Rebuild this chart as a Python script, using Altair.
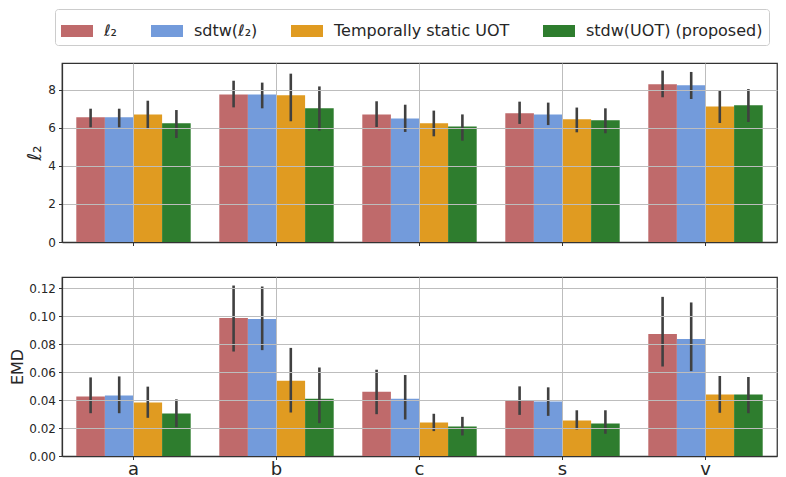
import altair as alt
import pandas as pd

categories = ["a", "b", "c", "s", "v"]
methods = ["ℓ₂", "sdtw(ℓ₂)", "Temporally static UOT", "stdw(UOT) (proposed)"]
colors = ["#bf6a6b", "#739bdb", "#e09b21", "#2e7d2e"]

# l2 panel: mean, low, high per category (rows) and method (columns)
l2_mean = [[6.55, 6.55, 6.70, 6.23],
           [7.75, 7.75, 7.70, 7.02],
           [6.70, 6.49, 6.23, 6.07],
           [6.76, 6.70, 6.44, 6.39],
           [8.28, 8.23, 7.12, 7.18]]
l2_low = [[6.02, 6.02, 5.93, 5.46],
          [7.07, 7.02, 6.34, 5.85],
          [6.04, 5.78, 5.55, 5.32],
          [6.20, 6.14, 5.76, 5.71],
          [7.60, 7.51, 6.25, 6.30]]
l2_high = [[7.00, 7.00, 7.42, 6.93],
           [8.47, 8.37, 8.84, 8.17],
           [7.39, 7.21, 6.90, 6.70],
           [7.37, 7.32, 7.06, 7.02],
           [9.00, 8.93, 7.98, 8.03]]

emd_mean = [[0.0425, 0.0432, 0.0382, 0.0304],
            [0.0986, 0.0979, 0.0538, 0.0410],
            [0.0460, 0.0410, 0.0240, 0.0211],
            [0.0396, 0.0389, 0.0254, 0.0233],
            [0.0873, 0.0837, 0.0439, 0.0439]]
emd_low = [[0.0306, 0.0306, 0.0273, 0.0206],
           [0.0747, 0.0757, 0.0311, 0.0235],
           [0.0299, 0.0261, 0.0178, 0.0147],
           [0.0294, 0.0287, 0.0190, 0.0159],
           [0.0640, 0.0607, 0.0309, 0.0306]]
emd_high = [[0.0562, 0.0569, 0.0496, 0.0405],
            [0.1219, 0.1212, 0.0773, 0.0633],
            [0.0617, 0.0579, 0.0302, 0.0280],
            [0.0498, 0.0491, 0.0327, 0.0327],
            [0.1138, 0.1098, 0.0572, 0.0565]]

emd_ticks = [0, 0.02, 0.04, 0.06, 0.08, 0.10, 0.12]
l2_ticks = [0, 2, 4, 6, 8]

rows = []
for i, c in enumerate(categories):
    for j, m in enumerate(methods):
        rows.append(dict(cat=c, method=m,
                         l2=l2_mean[i][j], l2lo=l2_low[i][j], l2hi=l2_high[i][j],
                         emd=emd_mean[i][j], emdlo=emd_low[i][j], emdhi=emd_high[i][j]))
df = pd.DataFrame(rows)

FONT = "DejaVu Sans"
W, H = 715, 179

color_scale = alt.Scale(domain=methods, range=colors)
legend = alt.Legend(
    orient="none", legendX=-7, legendY=-54, direction="horizontal", columns=4,
    title=None, labelFontSize=16, labelFont=FONT, labelColor="#262626",
    labelLimit=400,
    symbolType="M-1,-0.375H1V0.375H-1Z", symbolSize=1024, symbolStrokeWidth=0,
    symbolOpacity=1, labelOffset=11, columnPadding=33, padding=6,
    strokeColor="#cccccc", fillColor="white", cornerRadius=3,
)


def panel(field, lo, hi, title, title_size, domain, ticks, fmt, show_labels):
    x = alt.X("cat:N", sort=categories, title=None,
              scale=alt.Scale(paddingInner=0.2, paddingOuter=0.1),
              axis=alt.Axis(grid=True, bandPosition=0.5, labels=show_labels,
                            labelFontSize=18, labelAngle=0, labelPadding=1,
                            zindex=1))
    xo = alt.XOffset("method:N", sort=methods,
                     scale=alt.Scale(paddingInner=0, paddingOuter=0))
    y_axis = alt.Axis(values=ticks, format=fmt, title=title, zindex=1,
                      titleFontSize=title_size, titlePadding=3,
                      labelOverlap=False, tickCount=len(ticks))
    y_scale = alt.Scale(domain=domain, nice=False)
    bars = alt.Chart(df).mark_bar().encode(
        x=x, xOffset=xo,
        y=alt.Y(f"{field}:Q", scale=y_scale, axis=y_axis),
        color=alt.Color("method:N", sort=methods, scale=color_scale,
                        legend=legend),
    )
    errs = alt.Chart(df).mark_rule(color="#404040", strokeWidth=2.6).encode(
        x=x, xOffset=xo,
        y=alt.Y(f"{lo}:Q", scale=y_scale, axis=y_axis),
        y2=alt.Y2(f"{hi}:Q"),
    )
    return alt.layer(bars, errs).properties(width=W, height=H)


top = panel("l2", "l2lo", "l2hi", "ℓ₂", 19, [0, 9.4], l2_ticks, "d", False)
bottom = panel("emd", "emdlo", "emdhi", "EMD", 16, [0, 0.128],
               emd_ticks, ".2f", True)

chart = alt.vconcat(top, bottom, spacing=35, bounds="flush").properties(
    padding={"left": 1, "top": 0, "right": 0, "bottom": 0}
).configure_view(
    stroke="#333333", strokeWidth=1.25
).configure_axis(
    labelFont=FONT, titleFont=FONT, labelFontSize=12, labelColor="#262626",
    titleColor="#262626", titleFontWeight="normal",
    domainColor="#333333", domainWidth=1.25,
    tickColor="#333333", tickSize=3.5, tickWidth=1, labelPadding=3,
    gridColor="#bdbdbd", gridWidth=1,
).configure_legend(labelFont=FONT)

chart.save("out.html", embed_options={"renderer": "svg", "actions": False})
